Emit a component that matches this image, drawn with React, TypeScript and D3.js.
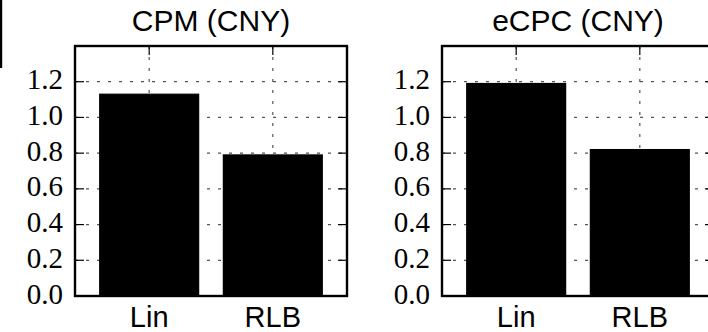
import React from "react";
import * as d3 from "d3";

const categories = ["Lin", "RLB"];
const panelTitles = ["CPM (CNY)", "eCPC (CNY)"];
const cpmValues = [1.13, 0.79];
const ecpcValues = [1.19, 0.82];
const yTicks = [0, 0.2, 0.4, 0.6, 0.8, 1.0, 1.2];

const W = 708;
const H = 332;
const panelLefts = [75, 442];
const panelW = 272;
const top = 46;
const bottom = 296;

const serif = "'Liberation Serif', 'DejaVu Serif', serif";
const sans = "'Liberation Sans', Arial, Helvetica, sans-serif";

function Panel({ left, title, values }: { left: number; title: string; values: number[] }) {
  const x = d3.scaleLinear().domain([-0.6, 1.6]).range([left, left + panelW]);
  const y = d3.scaleLinear().domain([0, 1.4]).range([bottom, top]);
  const barW = x(0.8) - x(0);
  const right = left + panelW;
  const tickLen = 9;
  return (
    <g>
      <text x={(left + right) / 2} y={31} textAnchor="middle" fontFamily={sans} fontSize={30} fill="#000">
        {title}
      </text>
      {yTicks.map((t) => (
        <line key={"hg" + t} x1={left} x2={right} y1={y(t)} y2={y(t)} stroke="#555" strokeWidth={1.2} strokeDasharray="3,8" />
      ))}
      {categories.map((c, i) => (
        <line key={"vg" + c} x1={x(i)} x2={x(i)} y1={top} y2={bottom} stroke="#555" strokeWidth={1.2} strokeDasharray="3,8" />
      ))}
      {values.map((v, i) => (
        <rect key={"b" + i} x={x(i) - barW / 2} y={y(v)} width={barW} height={y(0) - y(v)} fill="#000" stroke="#000" strokeWidth={1.2} />
      ))}
      {yTicks.map((t) => (
        <g key={"yt" + t}>
          <line x1={left} x2={left + tickLen} y1={y(t)} y2={y(t)} stroke="#000" strokeWidth={1.2} />
          <line x1={right} x2={right - tickLen} y1={y(t)} y2={y(t)} stroke="#000" strokeWidth={1.2} />
          <text x={left - 12} y={y(t) + 7.5} textAnchor="end" fontFamily={serif} fontSize={29} fill="#000">
            {d3.format(".1f")(t)}
          </text>
        </g>
      ))}
      {categories.map((c, i) => (
        <g key={"xt" + c}>
          <line x1={x(i)} x2={x(i)} y1={top} y2={top + tickLen} stroke="#000" strokeWidth={1.2} />
          <line x1={x(i)} x2={x(i)} y1={bottom} y2={bottom - tickLen} stroke="#000" strokeWidth={1.2} />
          <text x={x(i)} y={327} textAnchor="middle" fontFamily={sans} fontSize={29} fill="#000">
            {c}
          </text>
        </g>
      ))}
      <rect x={left} y={top} width={panelW} height={bottom - top} fill="none" stroke="#000" strokeWidth={2.4} />
    </g>
  );
}

export default function App() {
  const seriesList = [cpmValues, ecpcValues];
  return (
    <svg width={W} height={H} style={{ position: "absolute", left: 0, top: 0, display: "block", background: "#fff" }}>
      <rect x={0} y={0} width={W} height={H} fill="#fff" />
      <line x1={1} x2={1} y1={0} y2={68} stroke="#000" strokeWidth={2.4} />
      {panelTitles.map((t, i) => (
        <Panel key={t} left={panelLefts[i]} title={t} values={seriesList[i]} />
      ))}
    </svg>
  );
}
